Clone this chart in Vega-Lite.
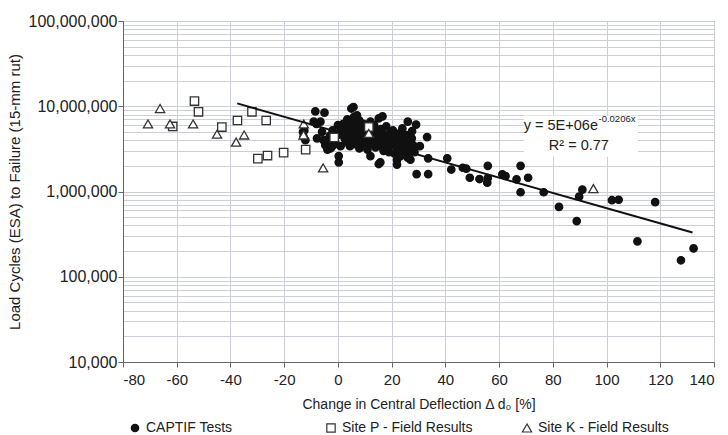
{
  "$schema": "https://vega.github.io/schema/vega-lite/v6.json",
  "width": 591,
  "height": 341,
  "autosize": {"type": "none"},
  "padding": {"left": 123, "top": 21, "right": 14, "bottom": 73},
  "background": "white",
  "config": {
    "font": "Liberation Sans",
    "view": {"stroke": "#777", "strokeWidth": 1},
    "axis": {"labelFont": "Liberation Sans", "titleFont": "Liberation Sans", "labelColor": "#222", "titleColor": "#222", "titleFontWeight": "normal"}
  },
  "datasets": {
    "pts": [
      {"s":"CAPTIF Tests","x":-8.4,"y":8700000},{"s":"CAPTIF Tests","x":-5.0,"y":8400000},{"s":"CAPTIF Tests","x":-9.0,"y":6600000},{"s":"CAPTIF Tests","x":-6.5,"y":6600000},{"s":"CAPTIF Tests","x":-8.0,"y":6200000},{"s":"CAPTIF Tests","x":-12.5,"y":5200000},{"s":"CAPTIF Tests","x":-12.1,"y":4000000},{"s":"CAPTIF Tests","x":-13.0,"y":5000000},{"s":"CAPTIF Tests","x":-12.8,"y":4400000},{"s":"CAPTIF Tests","x":-7.8,"y":4200000},{"s":"CAPTIF Tests","x":-5.9,"y":5000000},{"s":"CAPTIF Tests","x":-5.4,"y":4000000},{"s":"CAPTIF Tests","x":-3.9,"y":3100000},{"s":"CAPTIF Tests","x":-4.7,"y":3500000},{"s":"CAPTIF Tests","x":-2.8,"y":3200000},{"s":"CAPTIF Tests","x":-1.7,"y":3500000},{"s":"CAPTIF Tests","x":0.3,"y":2600000},{"s":"CAPTIF Tests","x":0.3,"y":2200000},{"s":"CAPTIF Tests","x":5.0,"y":9400000},{"s":"CAPTIF Tests","x":5.8,"y":9800000},{"s":"CAPTIF Tests","x":7.1,"y":7800000},{"s":"CAPTIF Tests","x":15.2,"y":7200000},{"s":"CAPTIF Tests","x":16.6,"y":7600000},{"s":"CAPTIF Tests","x":12.1,"y":6600000},{"s":"CAPTIF Tests","x":12.1,"y":2600000},{"s":"CAPTIF Tests","x":15.2,"y":2100000},
      {"s":"CAPTIF Tests","x":-3,"y":4500000},{"s":"CAPTIF Tests","x":-2,"y":5200000},{"s":"CAPTIF Tests","x":-1,"y":3800000},{"s":"CAPTIF Tests","x":0,"y":4600000},{"s":"CAPTIF Tests","x":0,"y":6000000},{"s":"CAPTIF Tests","x":-4,"y":4000000},{"s":"CAPTIF Tests","x":-2.5,"y":3300000},{"s":"CAPTIF Tests","x":1,"y":3400000},
      {"s":"CAPTIF Tests","x":1,"y":5500000},{"s":"CAPTIF Tests","x":1.5,"y":4800000},{"s":"CAPTIF Tests","x":2,"y":6200000},{"s":"CAPTIF Tests","x":2.5,"y":4200000},{"s":"CAPTIF Tests","x":3,"y":5000000},{"s":"CAPTIF Tests","x":3,"y":3800000},{"s":"CAPTIF Tests","x":3.5,"y":7000000},{"s":"CAPTIF Tests","x":4,"y":5800000},{"s":"CAPTIF Tests","x":4,"y":4500000},{"s":"CAPTIF Tests","x":4.5,"y":3400000},{"s":"CAPTIF Tests","x":5,"y":6500000},{"s":"CAPTIF Tests","x":5,"y":5200000},{"s":"CAPTIF Tests","x":5.5,"y":4000000},{"s":"CAPTIF Tests","x":6,"y":7500000},{"s":"CAPTIF Tests","x":6,"y":4800000},{"s":"CAPTIF Tests","x":6.5,"y":3600000},{"s":"CAPTIF Tests","x":7,"y":6000000},{"s":"CAPTIF Tests","x":7,"y":5300000},{"s":"CAPTIF Tests","x":7.5,"y":4300000},{"s":"CAPTIF Tests","x":8,"y":3200000},{"s":"CAPTIF Tests","x":8,"y":6800000},{"s":"CAPTIF Tests","x":8.5,"y":5600000},{"s":"CAPTIF Tests","x":9,"y":4600000},{"s":"CAPTIF Tests","x":9,"y":3900000},{"s":"CAPTIF Tests","x":9.5,"y":6200000},{"s":"CAPTIF Tests","x":10,"y":5000000},{"s":"CAPTIF Tests","x":10,"y":3500000},{"s":"CAPTIF Tests","x":10.5,"y":4300000},{"s":"CAPTIF Tests","x":11,"y":5800000},{"s":"CAPTIF Tests","x":11,"y":3100000},{"s":"CAPTIF Tests","x":11.5,"y":4800000},{"s":"CAPTIF Tests","x":12,"y":4000000},{"s":"CAPTIF Tests","x":12.5,"y":5300000},{"s":"CAPTIF Tests","x":13,"y":3600000},{"s":"CAPTIF Tests","x":13,"y":4600000},{"s":"CAPTIF Tests","x":13.5,"y":6000000},{"s":"CAPTIF Tests","x":14,"y":4200000},{"s":"CAPTIF Tests","x":14,"y":3300000},{"s":"CAPTIF Tests","x":14.5,"y":5000000},{"s":"CAPTIF Tests","x":15,"y":3800000},{"s":"CAPTIF Tests","x":15.5,"y":4500000},{"s":"CAPTIF Tests","x":16,"y":3400000},{"s":"CAPTIF Tests","x":16,"y":5400000},{"s":"CAPTIF Tests","x":16.5,"y":4000000},{"s":"CAPTIF Tests","x":17,"y":3000000},{"s":"CAPTIF Tests","x":17,"y":4700000},{"s":"CAPTIF Tests","x":17.5,"y":3600000},{"s":"CAPTIF Tests","x":18,"y":4300000},{"s":"CAPTIF Tests","x":18,"y":5800000},{"s":"CAPTIF Tests","x":18.5,"y":3300000},{"s":"CAPTIF Tests","x":19,"y":3900000},{"s":"CAPTIF Tests","x":19,"y":2900000},{"s":"CAPTIF Tests","x":19.5,"y":4800000},{"s":"CAPTIF Tests","x":20,"y":3500000},{"s":"CAPTIF Tests","x":20,"y":4200000},{"s":"CAPTIF Tests","x":20.5,"y":5200000},{"s":"CAPTIF Tests","x":21,"y":3700000},{"s":"CAPTIF Tests","x":21,"y":2800000},{"s":"CAPTIF Tests","x":21.5,"y":4500000},{"s":"CAPTIF Tests","x":22,"y":3300000},{"s":"CAPTIF Tests","x":22,"y":3900000},{"s":"CAPTIF Tests","x":22.5,"y":2600000},{"s":"CAPTIF Tests","x":23,"y":4800000},{"s":"CAPTIF Tests","x":23,"y":3600000},{"s":"CAPTIF Tests","x":23.5,"y":3000000},{"s":"CAPTIF Tests","x":24,"y":4200000},{"s":"CAPTIF Tests","x":24,"y":5500000},{"s":"CAPTIF Tests","x":24.5,"y":3400000},{"s":"CAPTIF Tests","x":25,"y":2800000},{"s":"CAPTIF Tests","x":25,"y":3900000},{"s":"CAPTIF Tests","x":25.5,"y":4600000},{"s":"CAPTIF Tests","x":26,"y":3300000},{"s":"CAPTIF Tests","x":26,"y":2500000},{"s":"CAPTIF Tests","x":26.5,"y":3800000},{"s":"CAPTIF Tests","x":27,"y":3000000},{"s":"CAPTIF Tests","x":27.5,"y":4200000},{"s":"CAPTIF Tests","x":28,"y":3500000},{"s":"CAPTIF Tests","x":28.5,"y":2900000},
      {"s":"CAPTIF Tests","x":15.8,"y":2200000},{"s":"CAPTIF Tests","x":22,"y":2360000},{"s":"CAPTIF Tests","x":22,"y":2070000},{"s":"CAPTIF Tests","x":23.3,"y":2600000},
      {"s":"CAPTIF Tests","x":26.0,"y":6600000},{"s":"CAPTIF Tests","x":29.1,"y":6100000},{"s":"CAPTIF Tests","x":27.6,"y":5100000},{"s":"CAPTIF Tests","x":33.2,"y":4350000},{"s":"CAPTIF Tests","x":30.5,"y":3400000},{"s":"CAPTIF Tests","x":27.0,"y":2360000},{"s":"CAPTIF Tests","x":33.6,"y":2450000},{"s":"CAPTIF Tests","x":29.3,"y":1600000},{"s":"CAPTIF Tests","x":33.6,"y":1600000},{"s":"CAPTIF Tests","x":40.7,"y":2450000},{"s":"CAPTIF Tests","x":42.2,"y":1810000},{"s":"CAPTIF Tests","x":46.5,"y":1900000},{"s":"CAPTIF Tests","x":47.8,"y":1850000},{"s":"CAPTIF Tests","x":49.1,"y":1450000},{"s":"CAPTIF Tests","x":52.7,"y":1400000},{"s":"CAPTIF Tests","x":55.8,"y":2000000},{"s":"CAPTIF Tests","x":55.8,"y":1440000},{"s":"CAPTIF Tests","x":55.6,"y":1270000},{"s":"CAPTIF Tests","x":61.2,"y":1590000},{"s":"CAPTIF Tests","x":62.4,"y":1520000},{"s":"CAPTIF Tests","x":66.5,"y":1390000},{"s":"CAPTIF Tests","x":68.0,"y":2000000},{"s":"CAPTIF Tests","x":70.8,"y":1450000},{"s":"CAPTIF Tests","x":68.0,"y":980000},{"s":"CAPTIF Tests","x":76.6,"y":980000},{"s":"CAPTIF Tests","x":82.3,"y":660000},{"s":"CAPTIF Tests","x":88.9,"y":450000},{"s":"CAPTIF Tests","x":91.0,"y":1050000},{"s":"CAPTIF Tests","x":89.8,"y":870000},{"s":"CAPTIF Tests","x":102.0,"y":790000},{"s":"CAPTIF Tests","x":104.5,"y":800000},{"s":"CAPTIF Tests","x":118.1,"y":750000},{"s":"CAPTIF Tests","x":111.5,"y":260000},{"s":"CAPTIF Tests","x":127.7,"y":156000},{"s":"CAPTIF Tests","x":132.4,"y":215000},
      {"s":"Site P - Field Results","x":-53.4,"y":11500000},{"s":"Site P - Field Results","x":-51.9,"y":8600000},{"s":"Site P - Field Results","x":-61.5,"y":5800000},{"s":"Site P - Field Results","x":-43.2,"y":5700000},{"s":"Site P - Field Results","x":-37.4,"y":6800000},{"s":"Site P - Field Results","x":-32.0,"y":8600000},{"s":"Site P - Field Results","x":-26.7,"y":6800000},{"s":"Site P - Field Results","x":-29.8,"y":2430000},{"s":"Site P - Field Results","x":-26.2,"y":2640000},{"s":"Site P - Field Results","x":-20.2,"y":2860000},{"s":"Site P - Field Results","x":-12.0,"y":3100000},{"s":"Site P - Field Results","x":-1.4,"y":4300000},{"s":"Site P - Field Results","x":11.5,"y":5700000},
      {"s":"Site K - Field Results","x":-70.7,"y":6200000},{"s":"Site K - Field Results","x":-66.2,"y":9400000},{"s":"Site K - Field Results","x":-62.5,"y":6200000},{"s":"Site K - Field Results","x":-53.9,"y":6200000},{"s":"Site K - Field Results","x":-45.0,"y":4700000},{"s":"Site K - Field Results","x":-37.9,"y":3800000},{"s":"Site K - Field Results","x":-34.9,"y":4600000},{"s":"Site K - Field Results","x":-12.7,"y":6200000},{"s":"Site K - Field Results","x":-12.8,"y":4600000},{"s":"Site K - Field Results","x":-5.5,"y":1890000},{"s":"Site K - Field Results","x":11.5,"y":4800000},{"s":"Site K - Field Results","x":95.1,"y":1080000}
    ]
  },
  "layer": [
    {
      "data": {"values": [{"x": 69.2, "x2": 111.7, "y": 2550000, "y2": 7800000}]},
      "mark": {"type": "rect", "fill": "white", "stroke": null},
      "encoding": {
        "x": {"field": "x", "type": "quantitative"},
        "x2": {"field": "x2"},
        "y": {"field": "y", "type": "quantitative"},
        "y2": {"field": "y2"}
      }
    },
    {
      "data": {"name": "pts"},
      "mark": {"type": "point", "strokeWidth": 1.3, "opacity": 1},
      "encoding": {
        "x": {
          "field": "x", "type": "quantitative",
          "scale": {"domain": [-80, 140], "nice": false, "zero": false},
          "axis": {
            "title": "Change in Central Deflection Δ d₀ [%]",
            "values": [-80, -60, -40, -20, 0, 20, 40, 60, 80, 100, 120, 140],
            "labelExpr": "'' + datum.value",
            "grid": true, "gridColor": "#cdcfd8", "gridWidth": 1,
            "domainColor": "#666", "tickColor": "#666", "tickSize": 5,
            "labelFontSize": 15, "labelPadding": 5,
            "titleFontSize": 14, "titlePadding": 10
          }
        },
        "y": {
          "field": "y", "type": "quantitative",
          "scale": {"type": "log", "domain": [10000, 100000000], "nice": false},
          "axis": {
            "title": "Load Cycles (ESA) to Failure (15-mm rut)",
            "values": [10000,20000,30000,40000,50000,60000,70000,80000,90000,100000,200000,300000,400000,500000,600000,700000,800000,900000,1000000,2000000,3000000,4000000,5000000,6000000,7000000,8000000,9000000,10000000,20000000,30000000,40000000,50000000,60000000,70000000,80000000,90000000,100000000],
            "labelExpr": "abs(log(datum.value)/LN10 - round(log(datum.value)/LN10)) < 0.001 ? format(datum.value, ',') : ''",
            "tickOpacity": {"condition": {"test": "abs(log(datum.value)/LN10 - round(log(datum.value)/LN10)) < 0.001", "value": 1}, "value": 0},
            "grid": true, "gridColor": "#cdcfd8", "gridWidth": 1,
            "domainColor": "#666", "tickColor": "#666", "tickSize": 5,
            "labelFontSize": 16, "labelPadding": 1,
            "titleFontSize": 15, "titlePadding": 6
          }
        },
        "shape": {
          "field": "s", "type": "nominal",
          "scale": {"domain": ["CAPTIF Tests", "Site P - Field Results", "Site K - Field Results"], "range": ["circle", "square", "triangle-up"]},
          "legend": {
            "title": null, "orient": "none", "legendX": 5, "legendY": 400,
            "direction": "horizontal", "columns": 3, "gridAlign": "all", "columnPadding": 46,
            "labelFontSize": 14, "labelColor": "#222", "labelFont": "Liberation Sans", "symbolStrokeWidth": 1.2, "labelOffset": 4
          }
        },
        "fill": {
          "field": "s", "type": "nominal",
          "scale": {"domain": ["CAPTIF Tests", "Site P - Field Results", "Site K - Field Results"], "range": ["#111111", "#ffffff", "#ffffff"]}
        },
        "stroke": {
          "field": "s", "type": "nominal",
          "scale": {"domain": ["CAPTIF Tests", "Site P - Field Results", "Site K - Field Results"], "range": ["#111111", "#333333", "#333333"]}
        },
        "size": {
          "field": "s", "type": "nominal",
          "scale": {"domain": ["CAPTIF Tests", "Site P - Field Results", "Site K - Field Results"], "range": [55, 85, 75]}
        }
      }
    },
    {
      "data": {"values": [{"x": -37.5, "y": 10800000}, {"x": 132, "y": 330000}]},
      "mark": {"type": "line", "color": "#111", "strokeWidth": 2},
      "encoding": {
        "x": {"field": "x", "type": "quantitative"},
        "y": {"field": "y", "type": "quantitative"}
      }
    },
    {
      "data": {"values": [{"x": 96.8, "y": 5820000, "t": "y = 5E+06e"}]},
      "mark": {"type": "text", "fontSize": 14.5, "color": "#222", "align": "right", "baseline": "middle", "font": "Liberation Sans"},
      "encoding": {
        "x": {"field": "x", "type": "quantitative"},
        "y": {"field": "y", "type": "quantitative"},
        "text": {"field": "t"}
      }
    },
    {
      "data": {"values": [{"x": 89.7, "y": 3390000, "t": "R² = 0.77"}]},
      "mark": {"type": "text", "fontSize": 14.5, "color": "#222", "align": "center", "baseline": "middle", "font": "Liberation Sans"},
      "encoding": {
        "x": {"field": "x", "type": "quantitative"},
        "y": {"field": "y", "type": "quantitative"},
        "text": {"field": "t"}
      }
    },
    {
      "data": {"values": [{"x": 97.0, "y": 7030000, "t": "-0.0206x"}]},
      "mark": {"type": "text", "fontSize": 9.5, "color": "#222", "align": "left", "baseline": "middle", "font": "Liberation Sans"},
      "encoding": {
        "x": {"field": "x", "type": "quantitative"},
        "y": {"field": "y", "type": "quantitative"},
        "text": {"field": "t"}
      }
    }
  ]
}
